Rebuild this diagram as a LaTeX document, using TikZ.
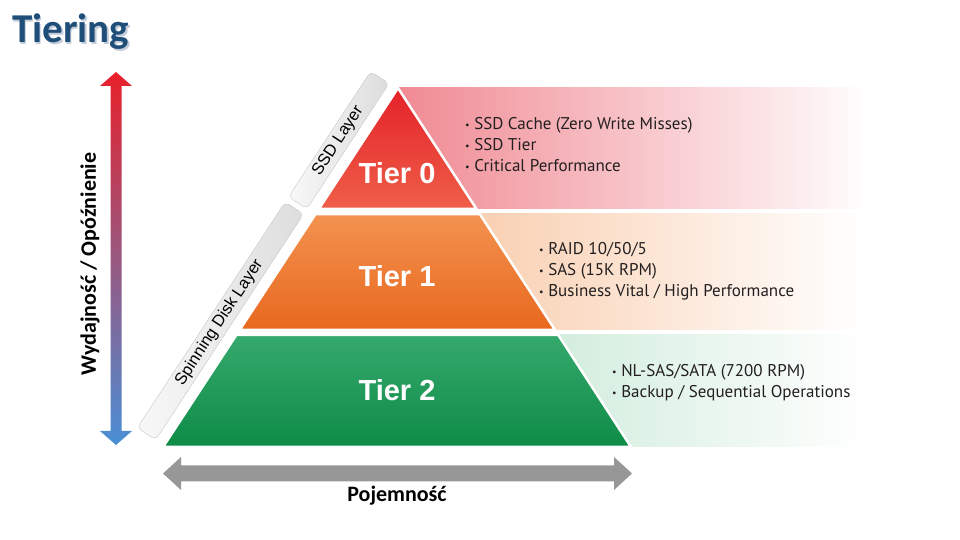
\documentclass[tikz,border=0pt]{standalone}
\usepackage{fontspec}
\setmainfont{PT Sans}
\newfontfamily\calib{Carlito}
\newfontfamily\arialf{Liberation Sans}
\usetikzlibrary{calc}
\definecolor{titleblue}{HTML}{1F4E79}
\definecolor{titleshade}{HTML}{C3CCD8}
\definecolor{bultext}{HTML}{231F20}
\definecolor{redtop}{HTML}{E4222A}
\definecolor{redbot}{HTML}{EF5E48}
\definecolor{orgtop}{HTML}{F39250}
\definecolor{orgbot}{HTML}{E8681E}
\definecolor{grntop}{HTML}{36A96D}
\definecolor{grnbot}{HTML}{0E8B47}
\definecolor{pinkband}{HTML}{F08A93}
\definecolor{peachband}{HTML}{F8C6A2}
\definecolor{mintband}{HTML}{BCE4CD}
\definecolor{arrred}{HTML}{E8202A}
\definecolor{arrmid}{HTML}{A0506E}
\definecolor{arrblue}{HTML}{4A8FD6}
\definecolor{arrgray}{HTML}{979797}
\definecolor{bargray}{HTML}{C8C8C8}
\definecolor{barlight}{HTML}{F8F8F8}
\definecolor{bardark}{HTML}{DDDDDD}
\newcommand{\bul}{\raisebox{1pt}{\fontsize{10}{10}\selectfont\textbullet}\ }

\begin{document}
\begin{tikzpicture}[line cap=round,line join=round,x=1pt,y=1pt,
  tierlbl/.style={text=white,font=\arialf\bfseries\fontsize{29}{32}\selectfont,inner sep=0pt},
  bullets/.style={anchor=west,align=left,text=bultext,font=\fontsize{17}{21}\selectfont,inner sep=0pt},
  sidebar/.style={draw=bargray,rounded corners=5pt,left color=barlight,right color=bardark},
  sidelbl/.style={font=\arialf\fontsize{16.5}{18}\selectfont,inner sep=0pt},
  axislbl/.style={font=\calib\bfseries\fontsize{22}{24}\selectfont,inner sep=0pt}]
\useasboundingbox (0,0) rectangle (960,540);
\fill[white] (0,0) rectangle (960,540);
% title
\node[anchor=base west,inner sep=0pt,text=titleshade,font=\calib\bfseries\fontsize{41}{44}\selectfont] at (13.5,495.5) {Tiering};
\node (title) [anchor=base west,inner sep=0pt,text=titleblue,font=\calib\bfseries\fontsize{41}{44}\selectfont] at (12,497) {Tiering};
% bands behind the pyramid
\shade[left color=pinkband,right color=white] (397,452) rectangle (872,331);
\shade[left color=peachband,right color=white] (397,326) rectangle (862,210);
\shade[left color=mintband,right color=white] (397,205) rectangle (866,93);
% pyramid
\coordinate (A) at (398,452);
\coordinate (L) at (163,93);
\coordinate (R) at (631,93);
\shade[top color=redtop,bottom color=redbot,draw=white,line width=2.5pt] (A) -- ($(R)!0.663!(A)$) -- ($(L)!0.663!(A)$) -- cycle;
\shade[top color=orgtop,bottom color=orgbot,draw=white,line width=2.5pt] ($(L)!0.649!(A)$) -- ($(R)!0.649!(A)$) -- ($(R)!0.326!(A)$) -- ($(L)!0.326!(A)$) -- cycle;
\shade[top color=grntop,bottom color=grnbot,draw=white,line width=2.5pt] ($(L)!0.312!(A)$) -- ($(R)!0.312!(A)$) -- (R) -- (L) -- cycle;
\node (t0) [tierlbl] at (397,367) {Tier 0};
\node (t1) [tierlbl] at (397,264) {Tier 1};
\node (t2) [tierlbl] at (397,150) {Tier 2};
% layer bars along the left side
\begin{scope}[shift={(L)},rotate=56.79]
\draw[sidebar] (278,10) rectangle (428,32);
\draw[sidebar] (2,10) rectangle (272,32);
\node (ssd) [sidelbl,rotate=56.79] at (352,21) {SSD Layer};
\node (hdd) [sidelbl,rotate=56.79] at (135,21) {Spinning Disk Layer};
\end{scope}
% descriptions
\node (d0) [bullets] at (465,395) {\bul SSD Cache (Zero Write Misses)\\\bul SSD Tier\\\bul Critical Performance};
\node (d1) [bullets] at (539,268.5) {\bul RAID 10/50/5\\\bul SAS (15K RPM)\\\bul Business Vital / High Performance};
\node (d2) [bullets] at (612,157) {\bul NL-SAS/SATA (7200 RPM)\\\bul Backup / Sequential Operations};
% performance arrow
\shade[top color=arrred,middle color=arrmid,bottom color=arrblue] (116,468) -- (132,454) -- (121.5,454) -- (121.5,109) -- (132,109) -- (116,95) -- (100,109) -- (110.5,109) -- (110.5,454) -- (100,454) -- cycle;
\node (perf) [axislbl,rotate=90] at (90,276) {Wydajność / Opóźnienie};
% capacity arrow
\fill[arrgray] (163,66.5) -- (181,83) -- (181,74.5) -- (614,74.5) -- (614,83) -- (632,66.5) -- (614,50) -- (614,58.5) -- (181,58.5) -- (181,50) -- cycle;
\node (cap) [axislbl] at (397,44) {Pojemność};
\end{tikzpicture}
\end{document}
